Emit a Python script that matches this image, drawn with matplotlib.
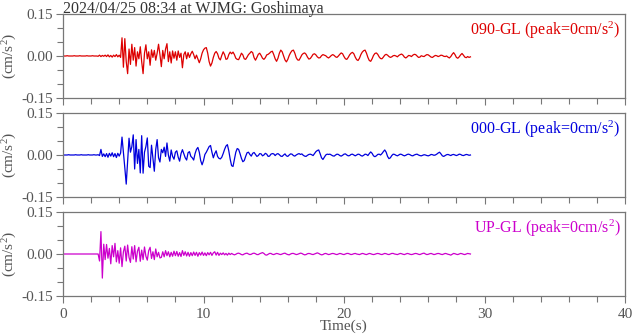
import numpy as np
import matplotlib
matplotlib.use("Agg")
import matplotlib.pyplot as plt
from matplotlib.ticker import MultipleLocator

plt.rcParams['font.family'] = ['Liberation Serif', 'DejaVu Serif']
plt.rcParams['mathtext.fontset'] = 'custom'
plt.rcParams['mathtext.rm'] = 'Liberation Serif'
plt.rcParams['mathtext.it'] = 'Liberation Serif'

# Record info
title = "2024/04/25 08:34 at WJMG: Goshimaya"
channels = ["090-GL", "000-GL", "UP-GL"]
peaks = [0, 0, 0]
colors = ["#dd0000", "#0000dd", "#cc00cc"]
dt = 0.1  # s, sampling step of the values

# Accelerations, in units of 0.001 cm/s^2 (one row = 1 s)
ew_milli = [
    0, 0, 0, 1, 0, 0, 0, 0, 1, 0,
    0, 0, 1, 0, 0, 0, 0, 1, 0, 0,
    0, 1, 0, 0, 0, -1, 3, -2, 2, -1,
    3, -2, 4, -3, 2, -4, 3, -2, 5, -3,
    3, -5, 65, -40, 62, -20, -63, 25, -30, 42,
    -15, 30, -36, 15, -10, 33, -20, -63, 10, 40,
    -10, 15, -33, 22, -5, 20, -15, 10, 42, 5,
    -38, 20, -10, 25, 44, -20, 15, -25, 18, -8,
    15, -15, 18, -5, 10, -42, 5, 15, -10, 12,
    -5, 8, 17, 5, -10, 3, -10, -24, -10, 10,
    22, 28, 30, 10, -20, -36, -25, -5, 10, 16,
    8, -8, -14, 2, 15, 5, -12, -10, 5, 14,
    8, 14, 5, -8, -12, -13, -2, 10, 4, -10,
    -12, -4, 5, 10, 16, 12, -6, -15, -5, 6,
    10, 2, -8, -12, -6, 4, 6, 10, 15, 17,
    5, -10, -19, -8, 10, 21, 15, 0, -14, -21,
    -12, 2, 12, 19, 21, 10, -6, -14, -15, -6,
    4, 9, 11, 6, -4, -11, -9, -2, 6, 8,
    4, -3, -7, -6, 1, 5, 3, 1, -4, -7,
    -3, 2, 5, 2, -3, -5, 0, 6, 11, 8,
    -2, -10, -12, -5, 4, 10, 13, 8, -4, -13,
    -16, -8, 5, 14, 19, 21, 10, -5, -16, -19,
    -10, 2, 9, 11, 6, -3, -9, -10, -4, 3,
    6, 3, -2, -5, -3, 1, 2, 0, -3, 2,
    5, 7, 3, -4, -7, -3, 2, 1, -2, 3,
    6, 5, 0, -5, -4, 1, -1, -2, 2, 5,
    4, 0, -4, -5, -1, 2, 1, -2, 0, 3,
    2, -1, -2, 0, -4, -7, -2, 6, 12, 5,
    -5, -8, -3, 4, 9, 3, -4, -6, -2, -5,
    -3,
]

ns_milli = [
    0, 0, 0, 0, 1, 0, 0, 0, 0, 1,
    0, 0, 0, 1, 0, 0, 0, 0, 1, 0,
    0, 0, 1, 0, 0, 1, -2, 20, -5, 4,
    -6, 5, -8, 6, -4, 8, -6, 5, -9, 6,
    -4, 7, 64, 10, -46, -104, -20, 60, 10, 30,
    72, -50, 55, -30, 20, -64, 69, -65, 10, 30,
    61, -40, -45, 35, -10, -58, 20, 55, -10, -25,
    20, 8, 28, -5, 43, 0, -22, 18, -5, -15,
    10, 15, -8, -22, 5, 19, 5, -10, -18, 8,
    12, -5, -10, -18, 5, 20, 27, 10, -20, -35,
    -20, 2, 10, 20, 30, 34, 10, -10, 5, 15,
    -5, -12, -14, -8, 5, 20, 32, 37, 15, -15,
    -38, -41, -15, 10, 23, 20, 5, -12, -24, -20,
    -5, 8, 10, 2, -4, 6, 9, 2, -5, -2,
    5, 4, -3, 0, 6, 3, -5, -4, 3, 5,
    4, -2, 3, 5, 1, -4, -5, 0, 4, -3,
    -5, 0, 4, 3, -2, -4, 0, 3, 5, 2,
    4, -1, -4, -5, -1, 2, 3, 1, -2, 5,
    12, 16, 18, 5, -10, -16, -8, 0, 3, 2,
    3, 0, -3, -4, 0, 3, 2, -2, -4, -1,
    3, 4, 0, -3, -2, 2, 3, 0, -3, 0,
    3, 2, -2, -4, -1, 3, 2, -2, 5, 11,
    6, -3, -6, -3, 2, 3, 0, 5, 12, 18,
    10, -5, -13, -10, -2, 3, 2, -1, -3, 0,
    3, 2, -1, -3, -1, 2, 3, 1, -2, -3,
    0, 2, 3, 0, -2, -3, -1, 1, 0, -2,
    -3, -1, 2, 1, -1, 0, 3, 7, 10, 4,
    -3, -5, -2, 1, 2, 0, -2, 1, 2, 0,
    -2, 0, 3, 2, -1, -2, 0, 2, 1, -1,
    0,
]

ud_milli = [
    0, 0, 0, 0, 0, 0, 0, 0, 0, 0,
    0, 0, 0, 0, 0, 0, 0, 0, 0, 0,
    0, 0, 0, 0, 0, 0, -25, 80, -86, 35,
    -20, 34, -15, 20, -35, 30, -10, 38, -28, 12,
    -33, 22, -45, 8, 28, -25, 32, -12, -30, 26,
    -18, 30, -28, 10, 24, -26, 14, -20, 25, -8,
    -22, 12, 24, -16, 8, -20, 18, -10, 6, -14,
    -12, 8, -10, 12, -6, 8, -10, 6, -8, 10,
    -6, 9, -8, 5, -9, 12, -5, 8, -7, 6,
    -8, 5, -6, 7, -5, 6, -8, 5, -4, 7,
    -5, 4, -6, 5, -3, 6, -5, 4, 8, -4,
    6, -5, 3, -2, 4, -3, 2, -4, 3, -2,
    2, -1, -3, -1, 2, 3, 1, -2, -3, 0,
    2, 3, 0, -2, -1, 2, 3, 1, -2, -2,
    1, 3, 5, 2, -3, -4, -1, 2, 2, -1,
    -2, 0, 2, 1, -1, -2, 0, 2, 3, 0,
    -2, -3, 0, 2, 2, 0, -2, -1, 1, 3,
    2, -1, -3, -2, 1, 2, 1, -1, -2, 0,
    2, 4, 2, -1, -3, -2, 1, 2, 0, -2,
    -1, 1, 2, 1, -1, -2, 0, 2, 1, -1,
    -2, 0, 2, 2, 0, -2, -1, 1, 2, 0,
    -1, -2, 0, 2, 1, -1, -2, 0, 2, 1,
    -1, -2, -1, 1, 2, 1, -1, -2, 0, 2,
    1, -1, -2, 0, 2, 2, 0, -1, -2, 0,
    2, 1, -1, -2, 0, 2, 1, -1, -2, -1,
    1, 2, 1, -1, -2, 0, 2, 3, 0, -2,
    -1, 1, 2, 0, -2, -1, 1, 2, 1, -1,
    -2, 0, 2, 1, -1, -2, -4, -1, 2, 1,
    -1, -2, 0, 2, 1, -1, -2, 0, 2, 1,
    0,
]

traces = [ew_milli, ns_milli, ud_milli]

fig = plt.figure(figsize=(6.33, 3.34), dpi=100)
gray = "#777777"
text_gray = "#555555"
fs = 11

left, width, height = 63 / 633, 562 / 633, 84 / 334
bottoms = [1 - 98 / 334, 1 - 197 / 334, 1 - 296 / 334]

for i, (vals, ch, pk, col) in enumerate(zip(traces, channels, peaks, colors)):
    ax = fig.add_axes([left, bottoms[i], width, height])
    acc = np.array(vals) * 1e-3
    t = np.arange(len(acc)) * dt
    ax.plot(t, acc, color=col, linewidth=0.9)

    ax.set_xlim(0, 40)
    ax.set_ylim(-0.15, 0.15)
    ax.set_yticks([-0.15, 0.0, 0.15])
    ax.set_yticklabels(["-0.15", "0.00", "0.15"])
    ax.yaxis.set_minor_locator(MultipleLocator(0.05))
    ax.xaxis.set_major_locator(MultipleLocator(10))
    ax.xaxis.set_minor_locator(MultipleLocator(2))
    ax.tick_params(axis='both', which='both', direction='out', color=gray,
                   labelcolor=text_gray, labelsize=fs, width=0.8)
    ax.tick_params(which='major', length=5)
    ax.tick_params(which='minor', length=4)
    ax.tick_params(axis='y', pad=2)
    for s in ax.spines.values():
        s.set_color(gray)
        s.set_linewidth(0.9)
    if i < 2:
        ax.set_xticklabels([])
    else:
        ax.set_xlabel("Time(s)", color=text_gray, fontsize=fs, labelpad=-1)
    ax.set_ylabel("(cm/s$^2$)", color=text_gray, fontsize=fs, labelpad=2)
    ax.text(0.992, 0.93, f"{ch} (peak={pk}cm/s$^2$)", transform=ax.transAxes,
            ha='right', va='top', color=col, fontsize=fs + 0.5)

fig.text(left, 1 - 1 / 334, title, ha='left', va='top', color="#333333", fontsize=fs + 0.5)

fig.savefig("out.png", dpi=100)
